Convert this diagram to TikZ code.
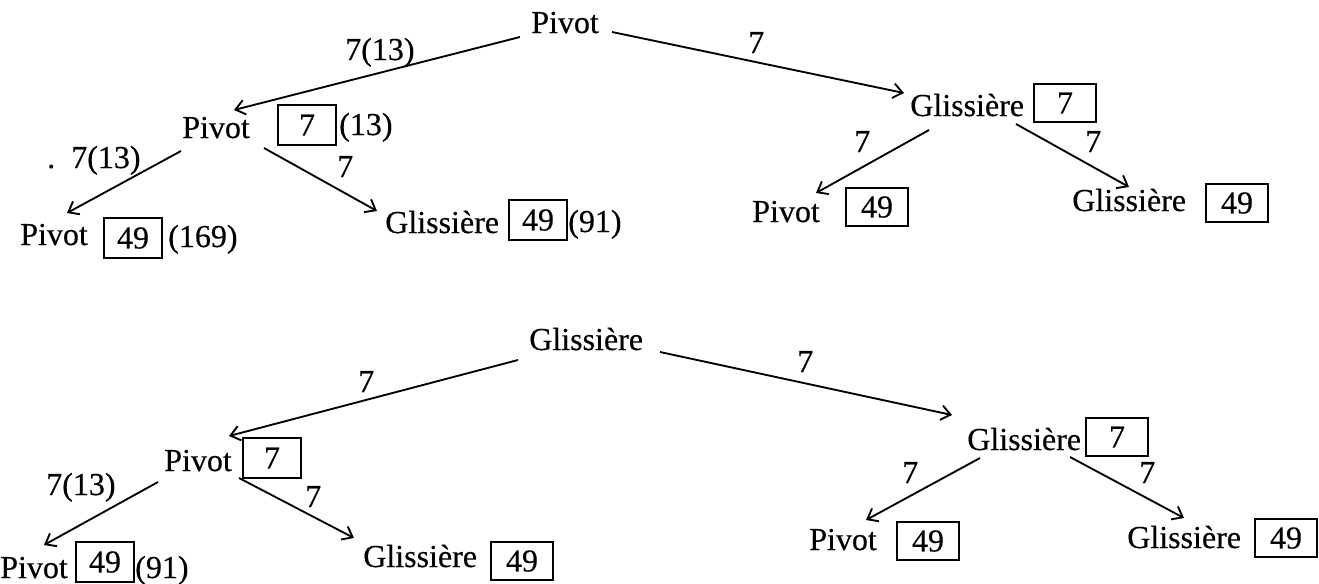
\documentclass[tikz,border=0pt]{standalone}
\usepackage{fontspec}
\setmainfont{Liberation Serif}[UprightFeatures={FakeBold=0.4}]
\usetikzlibrary{arrows.meta,calc}
\begin{document}
\begin{tikzpicture}[x=0.75pt,y=-0.75pt,
  txt/.style={inner sep=0pt, anchor=base west, font=\fontsize{24}{28}\selectfont},
  valbox/.style={draw, line width=1.4pt, inner sep=0pt, minimum width=43pt, minimum height=30pt, font=\fontsize{24}{28}\selectfont},
  wide/.style={minimum width=46.5pt, minimum height=29pt},
  conn/.style={line width=1.4pt, -{Straight Barb[length=7pt,width=11pt]}}]
\useasboundingbox (0,0) rectangle (1319,583);

% ---------- tree 1 ----------
\node[txt] (P0) at (531,33) {Pivot};
\node[txt] (P1) at (182,138) {Pivot};
\node[valbox] (B1) at (307,125) {7};
\node[txt] (T1) at (339,135) {(13)};
\node[txt] (G1) at (910,116) {Glissière};
\node[valbox,wide] (B2) at (1065,103) {7};
\node[txt] (P2) at (20,245) {Pivot};
\node[valbox] (B3) at (133,238) {49};
\node[txt] (T2) at (168,247) {(169)};
\node[txt] (G2) at (385,233) {Glissière};
\node[valbox] (B4) at (538,220) {49};
\node[txt] (T3) at (568,232) {(91)};
\node[txt] (P3) at (752,222) {Pivot};
\node[valbox,wide] (B5) at (877,207) {49};
\node[txt] (G3) at (1072,211) {Glissière};
\node[valbox,wide] (B6) at (1237,203) {49};

\node[txt] (L1) at (345,60) {7(13)};
\node[txt] (L2) at (748,53) {7};
\node[txt] (L3) at (47,168) {.\hskip 12pt 7(13)};
\node[txt] (L4) at (337,177) {7};
\node[txt] (L5) at (854,152) {7};
\node[txt] (L6) at (1085,152) {7};

\draw[conn] ($(P0.base west)+(-11,4)$) -- ($(P1.base west)+(52,-28)$);
\draw[conn] ($(P0.base west)+(81,-1)$) -- ($(G1.base west)+(-6,-23)$);
\draw[conn] ($(P1.base west)+(-1,13)$) -- ($(P2.base west)+(47,-32)$);
\draw[conn] ($(P1.base west)+(82,10)$) -- ($(G2.base west)+(-8,-22)$);
\draw[conn] ($(G1.base west)+(19,14)$) -- ($(P3.base west)+(64,-29)$);
\draw[conn] ($(G1.base west)+(106,8)$) -- ($(G3.base west)+(57,-24)$);

% ---------- tree 2 ----------
\node[txt] (G4) at (529,350) {Glissière};
\node[txt] (P4) at (164,471) {Pivot};
\node[valbox] (B7) at (272,458) {7};
\node[txt] (G5) at (967,450) {Glissière};
\node[valbox,wide] (B8) at (1117,437) {7};
\node[txt] (P5) at (0,578) {Pivot};
\node[valbox] (B9) at (105,562) {49};
\node[txt] (T4) at (135,578) {(91)};
\node[txt] (G6) at (363,567) {Glissière};
\node[valbox,wide] (B10) at (522,561) {49};
\node[txt] (P6) at (809,550) {Pivot};
\node[valbox,wide] (B11) at (928,541) {49};
\node[txt] (G7) at (1127,548) {Glissière};
\node[valbox,wide] (B12) at (1286,538) {49};

\node[txt] (L7) at (358,392) {7};
\node[txt] (L8) at (797,372) {7};
\node[txt] (L9) at (46,495) {7(13)};
\node[txt] (L10) at (305,507) {7};
\node[txt] (L11) at (902,483) {7};
\node[txt] (L12) at (1139,483) {7};

\draw[conn] ($(G4.base west)+(-11,10)$) -- ($(P4.base west)+(65,-35)$);
\draw[conn] ($(G4.base west)+(131,2)$) -- ($(G5.base west)+(-15,-35)$);
\draw[conn] ($(P4.base west)+(-6,11)$) -- ($(P5.base west)+(44,-33)$);
\draw[conn] ($(P4.base west)+(75,7)$) -- ($(G6.base west)+(-9,-29)$);
\draw[conn] ($(G5.base west)+(13,8)$) -- ($(P6.base west)+(57,-30)$);
\draw[conn] ($(G5.base west)+(103,7)$) -- ($(G7.base west)+(57,-30)$);
\end{tikzpicture}
\end{document}
